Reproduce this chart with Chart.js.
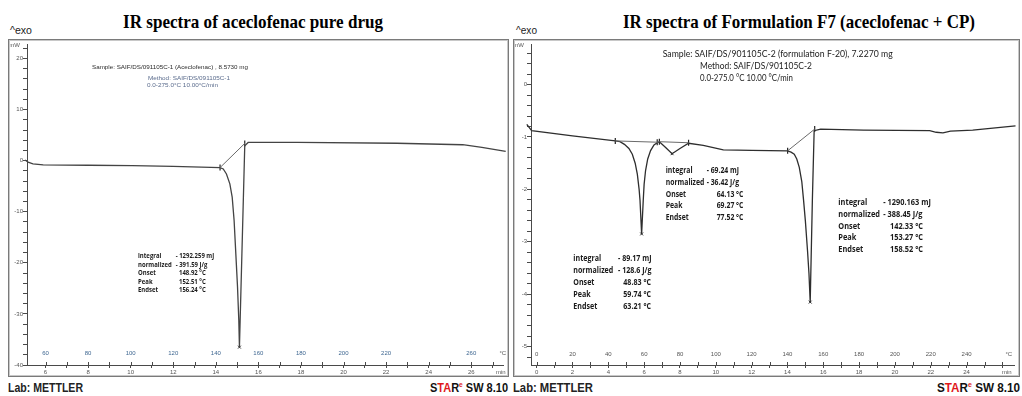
<!DOCTYPE html>
<html>
<head>
<meta charset="utf-8">
<script src="https://cdn.jsdelivr.net/npm/chart.js@4.4.1/dist/chart.umd.min.js"></script>
<style>
  html,body{margin:0;padding:0;background:#fff;}
  body{width:1022px;height:396px;position:relative;overflow:hidden;}
  canvas{position:absolute;}
  .box{position:absolute;box-sizing:border-box;border:1px solid #7a7a7a;box-shadow:inset 0 0 0 1px #c8c8c8;pointer-events:none;}
</style>
</head>
<body>
<canvas id="left" width="501" height="338" style="left:8px;top:39px;width:501px;height:338px"></canvas>
<canvas id="right" width="507" height="338" style="left:513px;top:39px;width:507px;height:338px"></canvas>
<div class="box" style="left:8px;top:39px;width:501px;height:338px"></div>
<div class="box" style="left:513px;top:39px;width:507px;height:338px"></div>
<script>
// ---------------- DATA ----------------
// Left panel: aceclofenac pure drug (time in min, heat flow in mW)
const leftTime     = [4.84, 4.9, 5.04, 5.18, 5.41, 5.89, 8.0, 10.08, 12.0, 14.2, 14.35, 14.5, 14.66, 14.77, 14.86, 14.94, 15.02, 15.08, 15.11, 15.36, 15.52, 15.83, 17.85, 22.5, 25.6, 26.5, 27.62];
const leftHeatFlow = [2.09, 1.36, 0.14, -0.29, -0.64, -0.84, -0.9, -0.97, -1.1, -1.35, -1.62, -2.6, -4.55, -7.15, -11.7, -18.2, -24.7, -31.2, -36.5, 2.92, 3.57, 3.57, 3.57, 3.41, 3.12, 2.6, 1.82];
const leftBaseTime = [14.2, 15.36];
const leftBaseFlow = [-1.35, 3.37];
const leftLimitTime = [14.2, 15.36];
const leftLimitFlow = [-1.35, 3.37];
const leftPeakTime = [15.11];
const leftPeakFlow = [-36.5];
const leftMinuteLabels = [6, 8, 10, 12, 14, 16, 18, 20, 22, 24, 26];
const leftTempLabels = [60, 80, 100, 120, 140, 160, 180, 200, 220, 260];
const leftFlowLabels = [20, 10, 0, -10, -20, -30, -40];

// Right panel: formulation F7 (time in min, heat flow in mW)
const rightTime = [-0.96, -0.55, -0.28, 2.0, 4.39, 4.65, 4.9, 5.15, 5.34, 5.5, 5.62, 5.72, 5.77, 5.86, 5.95, 6.0, 6.08, 6.2, 6.36, 6.55, 6.73, 6.85, 7.2, 7.56, 8.0, 8.48, 9.3, 10.42, 12.0, 14.01, 14.2, 14.38, 14.52, 14.66, 14.8, 14.9, 15.0, 15.12, 15.2, 15.27, 15.39, 15.49, 15.85, 18.25, 21.94, 22.3, 22.68, 23.1, 24.34, 26.73];
const rightHeatFlow = [-0.41, -0.76, -0.88, -0.98, -1.075, -1.09, -1.14, -1.22, -1.33, -1.5, -1.71, -2.0, -2.21, -2.85, -2.21, -1.9, -1.64, -1.42, -1.26, -1.15, -1.11, -1.09, -1.2, -1.32, -1.22, -1.12, -1.16, -1.245, -1.255, -1.264, -1.29, -1.33, -1.42, -1.58, -1.85, -2.21, -2.6, -3.17, -3.6, -4.15, -2.21, -0.88, -0.85, -0.87, -0.88, -0.91, -0.92, -0.89, -0.87, -0.79];
const rightBase1Time = [4.39, 6.78];
const rightBase1Flow = [-1.075, -1.1];
const rightBase2Time = [6.85, 8.48];
const rightBase2Flow = [-1.09, -1.11];
const rightBase3Time = [14.01, 15.52];
const rightBase3Flow = [-1.264, -0.85];
const rightLimitTime = [4.39, 6.73, 6.85, 8.48, 14.01, 15.52];
const rightLimitFlow = [-1.075, -1.1, -1.09, -1.11, -1.264, -0.85];
const rightPeakTime = [5.86, 7.56, 15.27];
const rightPeakFlow = [-2.85, -1.32, -4.15];
const rightMinuteLabels = [0, 2, 4, 6, 8, 10, 12, 14, 16, 18, 20, 22, 24];
const rightTempLabels = [0, 20, 40, 60, 80, 100, 120, 140, 160, 180, 200, 220, 240];
const rightFlowLabels = [0, -1, -2, -3, -4, -5];

const heatingRate = 10; // °C/min, from 0 °C

// ---------------- HELPERS ----------------
const pts = (xs, ys) => xs.map((x, i) => ({x, y: ys[i]}));
function range(a, b, step) {
  const out = [];
  const n = Math.round((b - a) / step);
  for (let i = 0; i <= n; i++) out.push(Math.round((a + i * step) * 1000) / 1000);
  return out;
}
const AX = '#4a4a4a';

const mettlerPlugin = {
  id: 'mettler',
  afterDraw(chart, args, o) {
    const {ctx, chartArea: a, scales: {x}} = chart;
    ctx.save();
    ctx.strokeStyle = AX; ctx.lineWidth = 1;
    x.ticks.forEach(t => {
      const px = Math.round(x.getPixelForValue(t.value)) + 0.5;
      ctx.beginPath(); ctx.moveTo(px, a.bottom - 3); ctx.lineTo(px, a.bottom); ctx.stroke();
    });
    ctx.font = '6px "Liberation Sans", Arial, sans-serif';
    ctx.textBaseline = 'middle'; ctx.textAlign = 'center';
    ctx.fillStyle = o.tempColor;
    o.temps.forEach(T => ctx.fillText(String(T), x.getPixelForValue(T / heatingRate), a.bottom - o.tempOffset));
    ctx.fillStyle = '#555';
    ctx.fillText('°C', a.right - o.unitInset, a.bottom - o.tempOffset);
    ctx.fillText('min', a.right - o.unitInset - 2, a.bottom + 7);
    ctx.textAlign = 'right';
    ctx.fillText('mW', a.left - 7, a.top + 1);
    ctx.restore();
  }
};

function makeChart(id, cfg) {
  const xTicks = range(cfg.xTickFrom, cfg.xTickTo, 1);
  const yTicks = range(cfg.yTickFrom, cfg.yTickTo, cfg.yMinor);
  const fit = (w, h) => s => {
    if (w !== undefined) s.width = w;
    if (h !== undefined) s.height = h;
    s.paddingLeft = s.paddingRight = s.paddingTop = s.paddingBottom = 0;
  };
  const line = (data, color, width) => ({type: 'line', data, borderColor: color, borderWidth: width, pointRadius: 0, tension: 0, clip: false, fill: false});
  const datasets = [
    ...cfg.baselines.map(b => line(b, '#6a6a6a', 1)),
    line(cfg.curve, cfg.curveColor, 1.3),
    {type: 'scatter', data: cfg.limits, pointStyle: 'line', rotation: 90, radius: 3, borderColor: '#222', borderWidth: 1.2, clip: false},
    {type: 'scatter', data: cfg.peaks, pointStyle: 'crossRot', radius: 2, borderColor: '#222', borderWidth: 1, clip: false}
  ];
  return new Chart(document.getElementById(id), {
    type: 'line',
    data: {datasets},
    plugins: [mettlerPlugin],
    options: {
      responsive: false, animation: false, devicePixelRatio: 1,
      layout: {padding: {top: 4, right: 1, left: 0, bottom: 0}},
      plugins: {legend: {display: false}, tooltip: {enabled: false},
        mettler: {temps: cfg.temps, tempColor: cfg.tempColor, tempOffset: cfg.tempOffset, unitInset: cfg.unitInset}},
      scales: {
        x: {
          type: 'linear', min: cfg.xMin, max: cfg.xMax,
          afterBuildTicks: s => { s.ticks = xTicks.map(v => ({value: v})); },
          afterFit: fit(undefined, 12),
          grid: {drawOnChartArea: false, tickLength: 3, tickColor: AX, tickWidth: 1},
          border: {color: AX, width: 1},
          ticks: {autoSkip: false, maxRotation: 0, minRotation: 0, padding: 1, color: '#555',
            font: {size: 6, family: '"Liberation Sans", Arial, sans-serif'},
            callback: v => cfg.xLabels.includes(v) ? String(v) : ''}
        },
        y: {
          type: 'linear', min: cfg.yMin, max: cfg.yMax,
          afterBuildTicks: s => { s.ticks = yTicks.map(v => ({value: v})); },
          afterFit: fit(cfg.yWidth, undefined),
          grid: {drawOnChartArea: false, tickLength: 4, tickColor: AX, tickWidth: 1},
          border: {color: AX, width: 1},
          ticks: {autoSkip: false, padding: 0, color: '#555',
            font: {size: 6, family: '"Liberation Sans", Arial, sans-serif'},
            callback: v => cfg.yLabels.includes(v) ? String(v) : ''}
        }
      }
    }
  });
}

makeChart('left', {
  curve: pts(leftTime, leftHeatFlow), curveColor: '#444',
  baselines: [pts(leftBaseTime, leftBaseFlow)],
  limits: pts(leftLimitTime, leftLimitFlow), peaks: pts(leftPeakTime, leftPeakFlow),
  xMin: 5.13, xMax: 27.53, xTickFrom: 6, xTickTo: 27, xLabels: leftMinuteLabels,
  yMin: -40, yMax: 22.8, yTickFrom: -40, yTickTo: 22, yMinor: 2, yLabels: leftFlowLabels, yWidth: 19,
  temps: leftTempLabels, tempColor: '#3f6791', tempOffset: 12, unitInset: 1
});
makeChart('right', {
  curve: pts(rightTime, rightHeatFlow), curveColor: '#2e2e2e',
  baselines: [pts(rightBase1Time, rightBase1Flow), pts(rightBase2Time, rightBase2Flow), pts(rightBase3Time, rightBase3Flow)],
  limits: pts(rightLimitTime, rightLimitFlow), peaks: pts(rightPeakTime, rightPeakFlow),
  xMin: -0.315, xMax: 26.69, xTickFrom: 0, xTickTo: 26, xLabels: rightMinuteLabels,
  yMin: -5.35, yMax: 0.77, yTickFrom: -5.2, yTickTo: 0.6, yMinor: 0.2, yLabels: rightFlowLabels, yWidth: 18,
  temps: rightTempLabels, tempColor: '#555', tempOffset: 11, unitInset: 6
});

// ---------------- TEXT ----------------
function place(content, x, baseline, size, opt = {}) {
  const family = opt.family || '"Liberation Sans", Arial, sans-serif';
  const d = document.createElement('div');
  if (opt.html) d.innerHTML = content; else d.textContent = content;
  Object.assign(d.style, {position: 'absolute', whiteSpace: 'pre', left: '0px', top: '0px',
    font: `${opt.weight || 'normal'} 20px ${family}`, lineHeight: '24px', color: opt.color || '#333', transformOrigin: '0 0'});
  const m = document.createElement('span');
  Object.assign(m.style, {display: 'inline-block', width: '0px', height: '0px'});
  d.appendChild(m);
  document.body.appendChild(d);
  const w = d.getBoundingClientRect().width;
  const bl = m.offsetTop;
  const sy = size / 20;
  const sx = opt.width ? opt.width / w : (opt.sx || 1) * sy;
  const drawnW = w * sx;
  let left = x;
  if (opt.anchor === 'center') left = x - drawnW / 2;
  if (opt.anchor === 'right') left = x - drawnW;
  d.style.transform = `translate(${left}px, ${baseline - bl * sy}px) scale(${sx}, ${sy})`;
  return w;
}
const BLK = '"Open Sans", Lato, sans-serif';
function block(rows, x1, x2, x3, base, dy, size, refW, color) {
  // horizontal factor from the width of the "normalized" label
  const probe = document.createElement('span');
  probe.textContent = 'normalized';
  Object.assign(probe.style, {position: 'absolute', font: `bold ${size}px ${BLK}`, whiteSpace: 'pre', visibility: 'hidden'});
  document.body.appendChild(probe);
  const sx = refW / probe.getBoundingClientRect().width;
  probe.remove();
  rows.forEach((r, i) => {
    const y = base + i * dy;
    place(r[0], x1, y, size, {family: BLK, weight: 'bold', sx, color});
    place(r[1], i < 2 ? x2 : x3, y, size, {family: BLK, weight: 'bold', sx, color});
  });
}

const SERIF = '"Liberation Serif", "Times New Roman", serif';
place('IR spectra of aceclofenac pure drug', 123, 28, 19, {family: SERIF, weight: 'bold', width: 260, color: '#000'});
place('IR spectra of Formulation F7 (aceclofenac + CP)', 623, 28, 19, {family: SERIF, weight: 'bold', width: 352, color: '#000'});
place('^exo', 10, 34, 10, {width: 22, color: '#222'});
place('^exo', 516, 34, 10, {width: 21, color: '#222'});
place('Lab: METTLER', 8, 392, 12.5, {weight: 'bold', width: 75, color: '#222'});
place('Lab: METTLER', 513, 392, 12.5, {weight: 'bold', width: 80, color: '#222'});
const star = '<span style="color:#111">S</span><span style="color:#e0181b">TA</span><span style="color:#111">R</span><span style="color:#e0181b;font-size:12px;vertical-align:8px">e</span><span style="color:#111"> SW 8.10</span>';
place(star, 508, 392, 12.5, {html: true, weight: 'bold', width: 78, anchor: 'right'});
place(star, 1020, 392, 12.5, {html: true, weight: 'bold', width: 83, anchor: 'right'});

// left header
place('Sample: SAIF/DS/091105C-1 (Aceclofenac) , 8.5730 mg', 92, 68.5, 6, {width: 156, color: '#2a2a2a'});
place('Method: SAIF/DS/091105C-1', 148, 80, 6, {width: 82, color: '#5a6b8c'});
place('0.0-275.0°C 10.00°C/min', 147, 86.5, 6, {width: 71, color: '#5a6b8c'});

// right header
const CAL = 'Lato, "Open Sans", sans-serif';
place('Sample: SAIF/DS/901105C-2 (formulation F-20), 7.2270 mg', 662.7, 57, 9, {family: CAL, width: 230, color: '#222'});
place('Method: SAIF/DS/901105C-2', 700, 69, 9, {family: CAL, width: 112, color: '#222'});
place('0.0-275.0 °C 10.00 °C/min', 700, 81, 9, {family: CAL, width: 93, color: '#222'});

// evaluation blocks
block([['integral', '- 1292.259 mJ'], ['normalized', '- 391.59 J/g'], ['Onset', '148.92 °C'], ['Peak', '152.51 °C'], ['Endset', '156.24 °C']],
  138, 175.7, 179, 258, 8.6, 7, 33.7, '#1a1a1a');
block([['integral', '- 69.24 mJ'], ['normalized', '- 36.42 J/g'], ['Onset', '64.13 °C'], ['Peak', '69.27 °C'], ['Endset', '77.52 °C']],
  665.7, 706.7, 716.7, 173.3, 11.67, 9, 38.6, '#1a1a1a');
block([['integral', '- 1290.163 mJ'], ['normalized', '- 388.45 J/g'], ['Onset', '142.33 °C'], ['Peak', '153.27 °C'], ['Endset', '158.52 °C']],
  838.3, 883.3, 890, 205, 11.8, 9, 41.7, '#1a1a1a');
block([['integral', '- 89.17 mJ'], ['normalized', '- 128.6 J/g'], ['Onset', '48.83 °C'], ['Peak', '59.74 °C'], ['Endset', '63.21 °C']],
  573.3, 618, 623.3, 261, 12, 9, 40, '#1a1a1a');
</script>
</body>
</html>
